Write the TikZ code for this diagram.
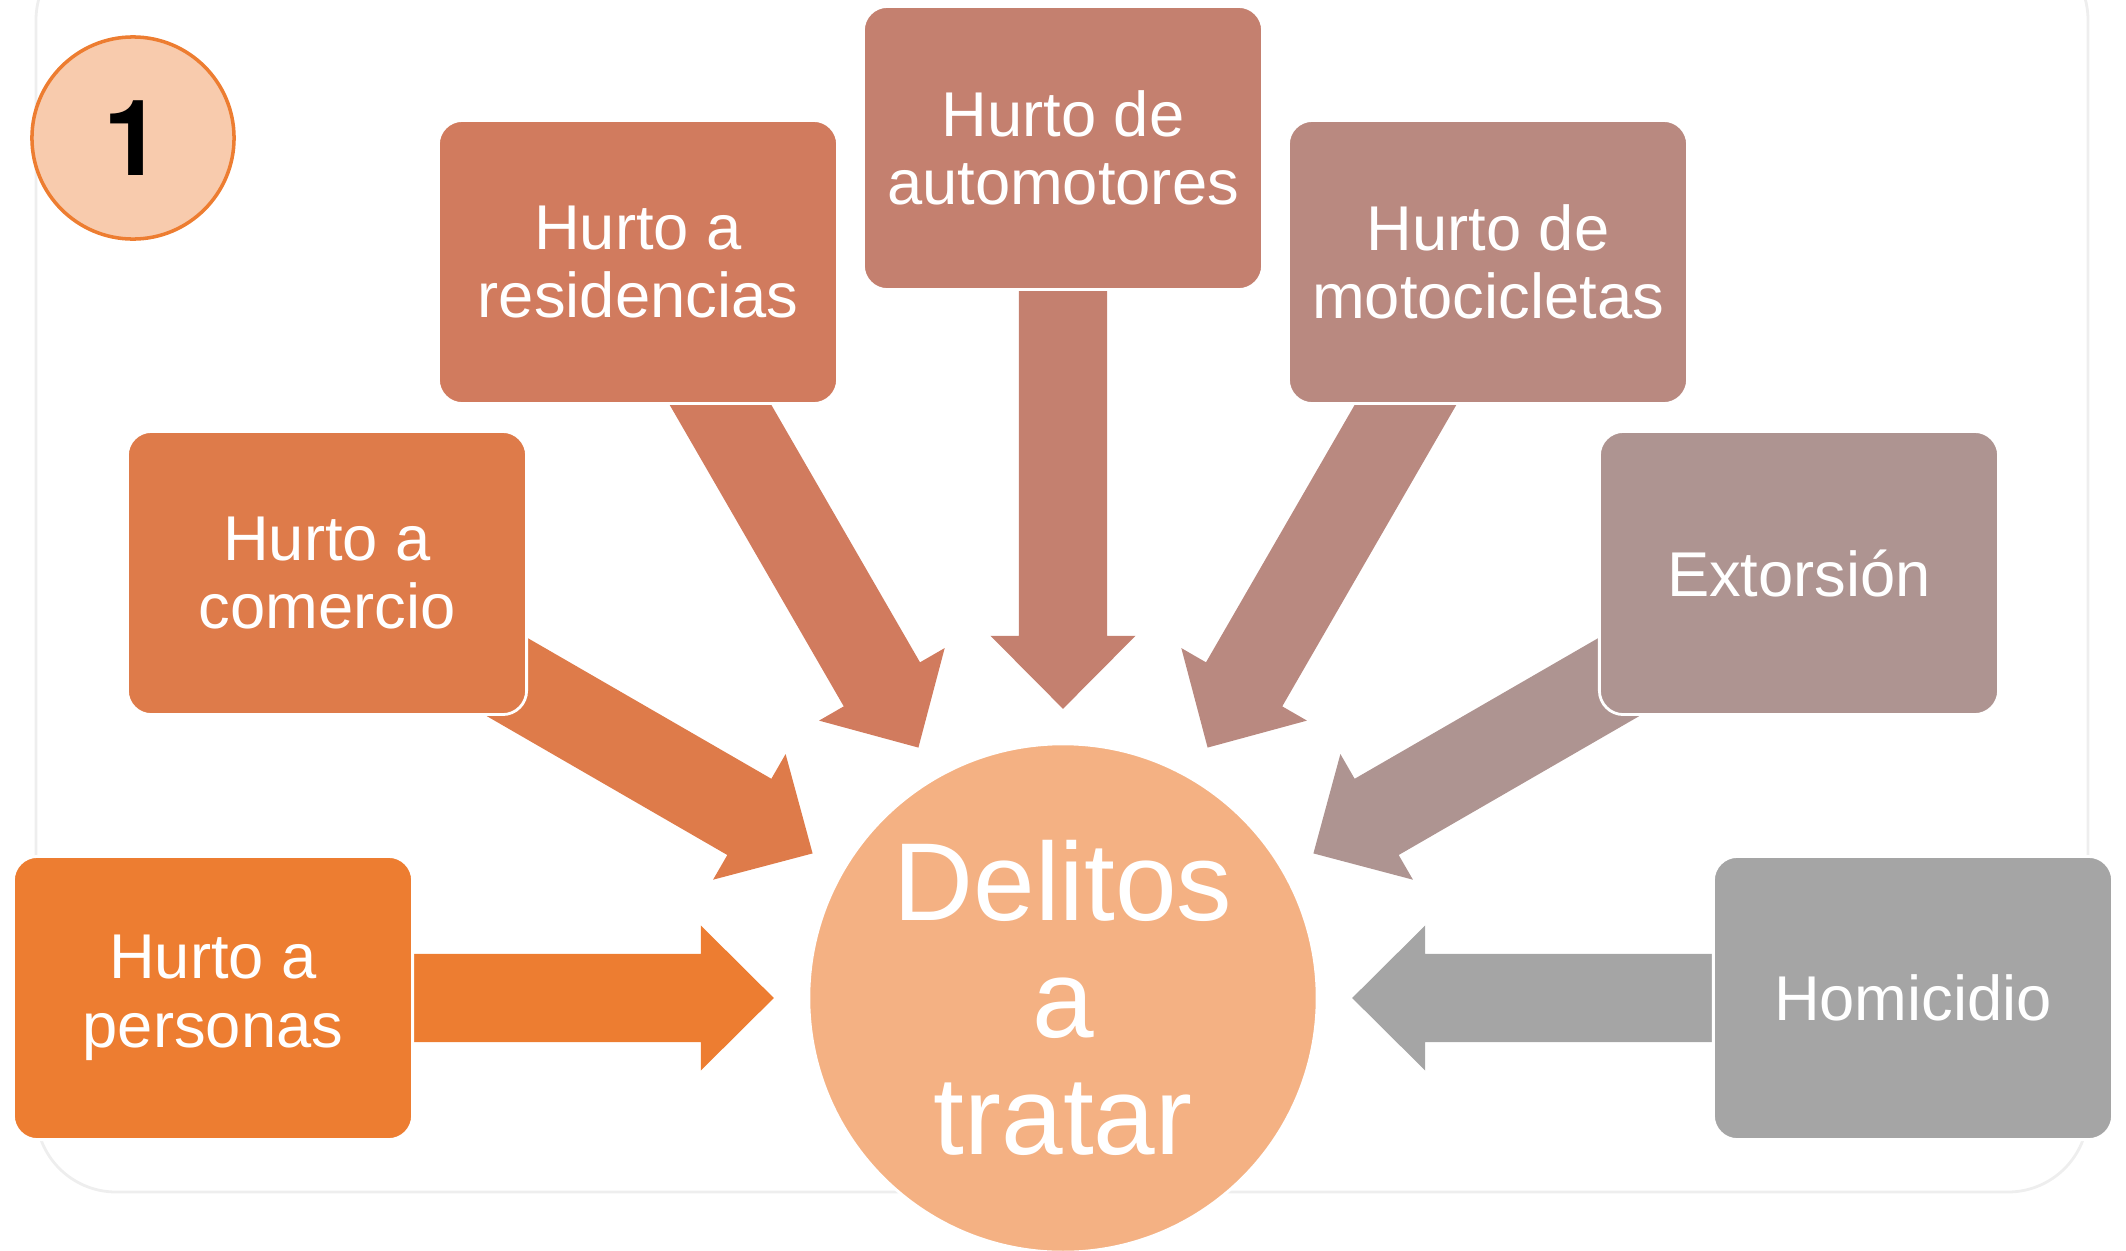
\documentclass[tikz,border=0pt]{standalone}
\usepackage{fontspec}
\setmainfont{Liberation Sans}
\newfontfamily\badgefont{TeX Gyre Heros}
\usetikzlibrary{calc,backgrounds}
\definecolor{cA}{HTML}{ED7D31}
\definecolor{cB}{HTML}{DE7B4A}
\definecolor{cC}{HTML}{D17B5E}
\definecolor{cD}{HTML}{C4806F}
\definecolor{cE}{HTML}{B98980}
\definecolor{cF}{HTML}{AE9491}
\definecolor{cG}{HTML}{A5A5A5}
\definecolor{hub}{HTML}{F4B183}
\definecolor{badge}{HTML}{F8CBAD}
\definecolor{framec}{HTML}{EEEEEE}
\begin{document}
\begin{tikzpicture}[x=0.01cm,y=-0.01cm,
  box/.style={rectangle, rounded corners=0.24cm, minimum width=3.99cm,
    minimum height=2.83cm, inner sep=0pt, outer sep=0pt, draw=white,
    line width=0.8pt, text=white, align=center,
    font=\fontsize{18}{19.5}\selectfont},
  hubnode/.style={circle, fill=hub, draw=white, line width=0.8pt,
    minimum size=5.08cm, inner sep=0pt, outer sep=0pt, text=white,
    align=center, font=\fontsize{31.5}{33.2}\selectfont},
  badgenode/.style={circle, fill=badge, draw=cA, line width=1pt,
    minimum size=2.02cm, inner sep=0pt,
    font=\badgefont\bfseries\fontsize{30}{30}\selectfont}
]
\useasboundingbox (0,0) rectangle (2126,1251);

\node[hubnode] (ctr) at (1063,998) {Delitos\\a\\tratar};

\node[box, fill=cA] (p1) at (213,998)  {Hurto a\\personas};
\node[box, fill=cB] (p2) at (327,573)  {Hurto a\\comercio};
\node[box, fill=cC] (p3) at (638,262)  {Hurto a\\residencias};
\node[box, fill=cD] (p4) at (1063,148) {Hurto de\\automotores};
\node[box, fill=cE] (p5) at (1488,262) {Hurto de\\motocicletas};
\node[box, fill=cF] (p6) at (1799,573) {Extorsión};
\node[box, fill=cG] (p7) at (1913,998) {Homicidio};

\node[badgenode] (num) at (133,138) {1};

\begin{pgfonlayer}{background}
  \draw[framec, line width=0.8pt, rounded corners=0.8cm]
    (36,-60) rectangle (2088,1192);
  \foreach \n/\c in {p1/cA, p2/cB, p3/cC, p4/cD, p5/cE, p6/cF, p7/cG} {
    \coordinate (tip) at ($(ctr)!2.89cm!(\n)$);
    \coordinate (bk) at ($(ctr)!3.62cm!(\n)$);
    \fill[\c] ($(\n)!0.44cm!90:(ctr)$) -- ($(bk)!0.44cm!90:(ctr)$)
      -- ($(bk)!0.725cm!90:(ctr)$) -- (tip)
      -- ($(bk)!0.725cm!-90:(ctr)$) -- ($(bk)!0.44cm!-90:(ctr)$)
      -- ($(\n)!0.44cm!-90:(ctr)$) -- cycle;
  }
\end{pgfonlayer}
\end{tikzpicture}
\end{document}
